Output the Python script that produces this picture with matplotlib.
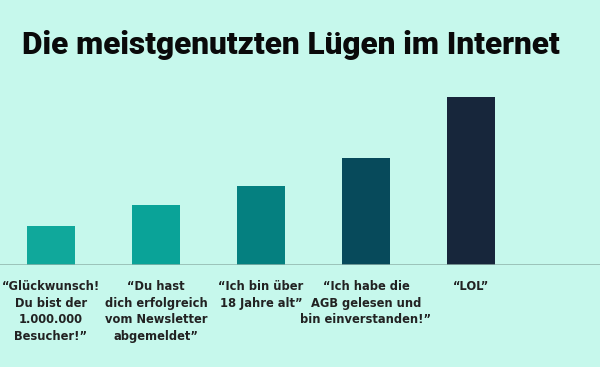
import matplotlib
matplotlib.use("Agg")
import matplotlib.pyplot as plt
import numpy as np

# Data
labels = [
    "\u201cGlückwunsch!\nDu bist der\n1.000.000\nBesucher!\u201d",
    "\u201cDu hast\ndich erfolgreich\nvom Newsletter\nabgemeldet\u201d",
    "\u201cIch bin über\n18 Jahre alt\u201d",
    "\u201cIch habe die\nAGB gelesen und\nbin einverstanden!\u201d",
    "\u201cLOL\u201d",
]
values = [39, 60, 79, 107, 168]
colors = ["#10a89b", "#0aa398", "#058080", "#074a5b", "#17263b"]
title = "Die meistgenutzten Lügen im Internet"

bg = "#c6f8ec"

fig = plt.figure(figsize=(6, 3.67), dpi=100, facecolor=bg)
ax = fig.add_axes([0, 102 / 367, 1, 168 / 367])
ax.set_facecolor(bg)

x = np.arange(len(values))
ax.bar(x, values, width=0.45, color=colors, zorder=2)
ax.axhline(0, color="#8fb3aa", lw=1.8, zorder=3)

ax.set_xlim(-51 / 105, 549 / 105)
ax.set_ylim(0, max(values))
for s in ax.spines.values():
    s.set_visible(False)
ax.set_yticks([])
ax.set_xticks(x)
ax.set_xticklabels(labels, fontsize=8.3, fontweight="bold", color="#222222",
                   linespacing=1.35, family="DejaVu Sans")
ax.tick_params(axis="x", length=0, pad=11)

fig.text(0.485, 0.877, title, ha="center", va="center", fontsize=22.7,
         fontweight="heavy", color="#0a0a0a", family=["Roboto", "DejaVu Sans"])

fig.savefig("out.png", dpi=100, facecolor=bg)
